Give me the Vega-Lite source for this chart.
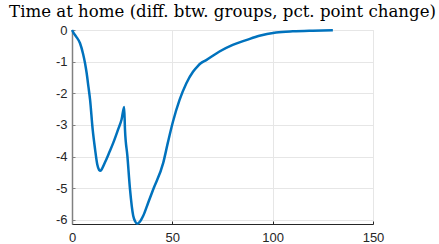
{
  "$schema": "https://vega.github.io/schema/vega-lite/v6.json",
  "width": 301,
  "height": 194,
  "autosize": {"type": "none"},
  "padding": {"left": 72, "top": 30, "right": 66, "bottom": 20},
  "background": "white",
  "title": {
    "text": "Time at home (diff. btw. groups, pct. point change)",
    "font": "DejaVu Serif",
    "fontSize": 16.6,
    "fontWeight": "normal",
    "color": "#000000",
    "anchor": "middle",
    "offset": 3
  },
  "config": {
    "view": {"stroke": "#e0e0e0", "strokeWidth": 1},
    "axis": {
      "labelFont": "Liberation Sans",
      "labelFontSize": 13,
      "labelColor": "#262626",
      "gridColor": "#e6e6e6",
      "gridWidth": 1,
      "labelFlush": false,
      "title": null
    }
  },
  "data": {
    "values": [
      {"day": 0, "diff": 0},
      {"day": 0.7, "diff": -0.08},
      {"day": 2, "diff": -0.2},
      {"day": 4, "diff": -0.42},
      {"day": 5.5, "diff": -0.75},
      {"day": 6.5, "diff": -1.05},
      {"day": 7.3, "diff": -1.36},
      {"day": 8.2, "diff": -1.8},
      {"day": 9, "diff": -2.2},
      {"day": 10.3, "diff": -3.14},
      {"day": 11.5, "diff": -3.77},
      {"day": 12.6, "diff": -4.25},
      {"day": 13.5, "diff": -4.42},
      {"day": 14.2, "diff": -4.45},
      {"day": 15, "diff": -4.38},
      {"day": 16.4, "diff": -4.19},
      {"day": 18.5, "diff": -3.88},
      {"day": 20.6, "diff": -3.56},
      {"day": 23, "diff": -3.14},
      {"day": 24.7, "diff": -2.83},
      {"day": 26, "diff": -2.43},
      {"day": 26.4, "diff": -3.14},
      {"day": 27.6, "diff": -3.98},
      {"day": 28.9, "diff": -5.03},
      {"day": 30.5, "diff": -5.87},
      {"day": 31.5, "diff": -6.05},
      {"day": 32.5, "diff": -6.12},
      {"day": 33.5, "diff": -6.08},
      {"day": 35.5, "diff": -5.87},
      {"day": 38, "diff": -5.45},
      {"day": 40.5, "diff": -5.03},
      {"day": 45.5, "diff": -4.19},
      {"day": 47.8, "diff": -3.55},
      {"day": 50.3, "diff": -2.9},
      {"day": 53.6, "diff": -2.21},
      {"day": 57, "diff": -1.68},
      {"day": 60.3, "diff": -1.32},
      {"day": 62.7, "diff": -1.14},
      {"day": 64, "diff": -1.06},
      {"day": 66.9, "diff": -0.95},
      {"day": 73.5, "diff": -0.68},
      {"day": 80.1, "diff": -0.47},
      {"day": 86.8, "diff": -0.32},
      {"day": 93.4, "diff": -0.18},
      {"day": 101.7, "diff": -0.08},
      {"day": 110, "diff": -0.04},
      {"day": 120, "diff": -0.02},
      {"day": 130, "diff": -0.01}
    ]
  },
  "mark": {"type": "line", "color": "#0072BD", "strokeWidth": 2.5, "interpolate": "monotone", "clip": false},
  "encoding": {
    "x": {
      "field": "day",
      "type": "quantitative",
      "scale": {"domain": [0, 150], "nice": false, "zero": false},
      "axis": {"values": [0, 50, 100, 150], "tickSize": -3, "tickColor": "#262626", "domainColor": "#262626", "labelPadding": 10}
    },
    "y": {
      "field": "diff",
      "type": "quantitative",
      "scale": {"domain": [-6.13, 0], "nice": false, "zero": false},
      "axis": {"values": [-6, -5, -4, -3, -2, -1, 0], "labelExpr": "datum.value < 0 ? '-' + abs(datum.value) : '' + datum.value", "tickSize": -3, "tickColor": "#808080", "domainColor": "#808080", "domainWidth": 1.5, "labelPadding": 8}
    }
  }
}
